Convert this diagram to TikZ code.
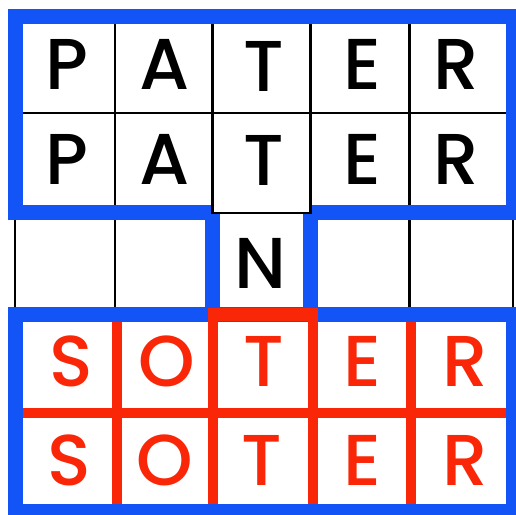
\documentclass[tikz,border=0pt]{standalone}
\usepackage{fontspec}
\setmainfont{Poppins}[UprightFont=* Medium]
\definecolor{sqblue}{RGB}{18,84,246}
\definecolor{sqred}{RGB}{250,38,8}
\begin{document}
\begin{tikzpicture}[x=1pt,y=-1pt,
  blueline/.style={draw=sqblue,line width=15pt,line join=miter},
  redline/.style={draw=sqred,line width=10pt,line join=miter},
  gridline/.style={draw=black,line width=2.2pt},
  letter/.style={font=\fontsize{72}{72}\selectfont,inner sep=0pt,anchor=center},
  blk/.style={letter,text=black},
  rd/.style={letter,text=sqred}]
\useasboundingbox (0,0) rectangle (516,514);
\fill[white] (0,0) rectangle (516,514);
% black grid of the upper three rows
\foreach \x in {15,115,212.5,310.5,409.5,513}
  \draw[gridline] (\x,16) -- (\x,314.5);
\foreach \y in {16,113,212.5,314.5}
  \draw[gridline] (15,\y) -- (513,\y);
% blue outlines
\draw[blueline] (15,16) -- (513,16) -- (513,212.5) -- (310.5,212.5) -- (310.5,314.5)
  -- (212.5,314.5) -- (212.5,212.5) -- (15,212.5) -- cycle;
\draw[blueline] (15,314.5) rectangle (513,511);
% black-bordered cell above N
\draw[gridline,fill=white] (212.5,113) rectangle (310.5,213);
% red lines of the lower rows
\draw[redline] (117,322) -- (117,503.5);
\draw[redline] (411,322) -- (411,503.5);
\draw[redline] (22.5,412.5) -- (505.5,412.5);
\draw[redline] (213,503.5) -- (213,314.5) -- (312.5,314.5) -- (312.5,503.5);
\draw[sqred,line width=13pt] (208,314.5) -- (317.5,314.5);
% letters
\node[blk] (p1) at (67,64) {P};
\node[blk] (a1) at (164.5,64) {A};
\node[blk] (t1) at (264,66) {T};
\node[blk] (e1) at (362,64) {E};
\node[blk] (r1) at (456,64) {R};
\node[blk] (p2) at (67,159) {P};
\node[blk] (a2) at (164.5,159) {A};
\node[blk] (t2) at (264,160) {T};
\node[blk] (e2) at (362,159) {E};
\node[blk] (r2) at (456,159) {R};
\node[blk] (n3) at (260,263) {N};
\node[rd] (s4) at (71,361) {S};
\node[rd] (o4) at (166.5,361) {O};
\node[rd] (t4) at (264,361) {T};
\node[rd] (e4) at (362,361) {E};
\node[rd] (r4) at (465,361) {R};
\node[rd] (s5) at (69,460) {S};
\node[rd] (o5) at (165,460) {O};
\node[rd] (t5) at (262,460) {T};
\node[rd] (e5) at (362,460) {E};
\node[rd] (r5) at (465,460) {R};
\end{tikzpicture}
\end{document}
